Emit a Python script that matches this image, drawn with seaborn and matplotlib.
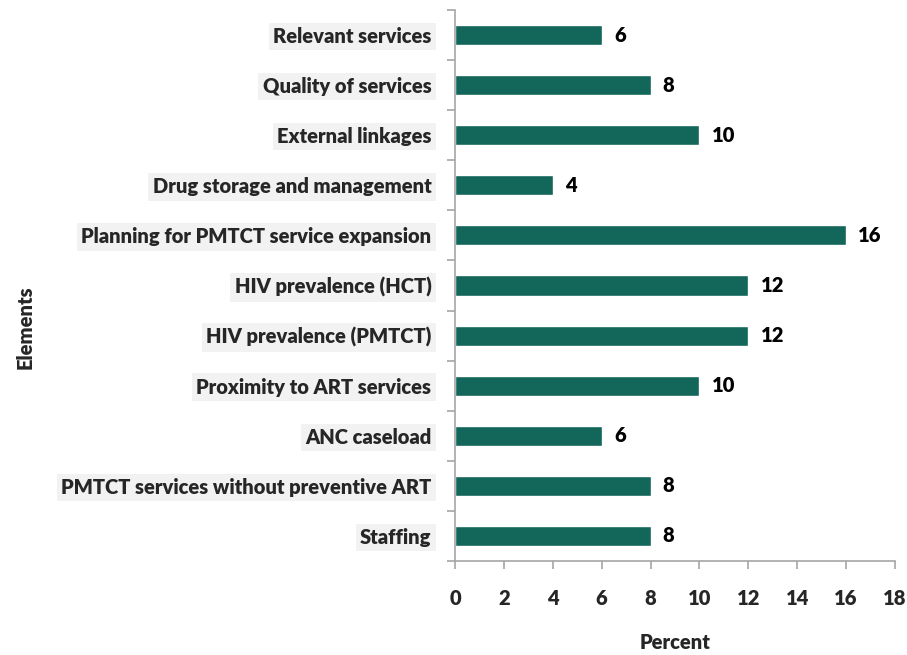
import matplotlib
matplotlib.use("Agg")
import matplotlib.pyplot as plt
import seaborn as sns
import pandas as pd
import numpy as np

# --- datos ---
elements = ['Relevant services', 'Quality of services', 'External linkages',
            'Drug storage and management', 'Planning for PMTCT service expansion',
            'HIV prevalence (HCT)', 'HIV prevalence (PMTCT)', 'Proximity to ART services',
            'ANC caseload', 'PMTCT services without preventive ART', 'Staffing']
percent = [6, 8, 10, 4, 16, 12, 12, 10, 6, 8, 8]
x_ticks = [0, 2, 4, 6, 8, 10, 12, 14, 16, 18]

df = pd.DataFrame({'Elements': elements, 'Percent': percent})

sns.set_theme(style="white")
plt.rcParams['font.family'] = ['Lato', 'DejaVu Sans']
plt.rcParams['font.weight'] = 'bold'

bar_color = '#12665A'
spine_color = '#A6A6A6'
fs = 14.5

fig = plt.figure(figsize=(9.07, 6.55), dpi=100)
ax = fig.add_axes([0.5017, 0.1435, 0.4851, 0.8412])

sns.barplot(data=df, x='Percent', y='Elements', orient='h', color=bar_color,
            width=0.4, saturation=1, ax=ax)

for i, v in enumerate(percent):
    ax.text(v + 0.5, i, str(v), va='center', ha='left', fontsize=fs,
            fontweight='heavy', color='black')

ax.set_xlim(0, 18)
ax.set_ylim(len(elements) - 0.5, -0.5)
ax.set_xticks(x_ticks)
ax.set_xticklabels([str(t) for t in x_ticks], fontsize=fs, fontweight='heavy')

ax.set_yticks(range(len(elements)))
ax.set_yticks(np.arange(-0.5, len(elements), 1), minor=True)
ax.set_yticklabels(elements, fontsize=fs, fontweight='heavy')
for lab in ax.get_yticklabels():
    lab.set_bbox(dict(facecolor='#F2F2F2', edgecolor='none', pad=3))

ax.tick_params(axis='y', which='major', length=0, pad=17)
ax.tick_params(axis='y', which='minor', length=6, color=spine_color, width=1.2, left=True)
ax.tick_params(axis='x', which='major', length=6, color=spine_color, width=1.2,
               bottom=True, pad=14)

for s in ['top', 'right']:
    ax.spines[s].set_visible(False)
for s in ['left', 'bottom']:
    ax.spines[s].set_color(spine_color)
    ax.spines[s].set_linewidth(1.2)

ax.set_xlabel('Percent', fontsize=fs, fontweight='heavy', labelpad=18)
ax.set_ylabel('')
fig.text(0.028, 0.5, 'Elements', rotation=90, va='center', ha='center',
         fontsize=fs, fontweight='heavy')

fig.savefig('out.png', dpi=100)
